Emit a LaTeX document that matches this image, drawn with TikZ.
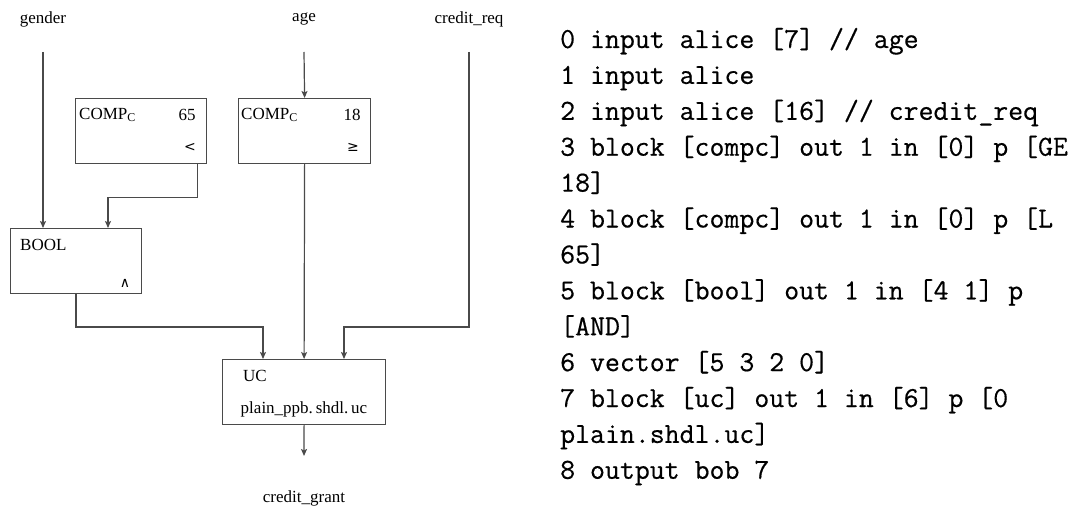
\documentclass[tikz,border=0pt]{standalone}
\usepackage{fontspec}
\setmainfont{Liberation Serif}
\newfontfamily\codefont{Latin Modern Mono}[FakeBold=0.5]
\newfontfamily\symfont{DejaVu Sans}
\usetikzlibrary{arrows.meta}
\definecolor{wire}{HTML}{4A4A4A}
\tikzset{
  blockbox/.style={draw=wire, line width=1.2pt, fill=white, minimum width=#1, minimum height=65pt,
                   inner sep=0pt, anchor=north west},
  wirearrow/.style={draw=wire, line width=1.2pt, -{Stealth[length=7pt,width=6pt,inset=1.5pt]}},
  lbl/.style={font=\fontsize{17}{20}\selectfont, inner sep=0pt},
  sym/.style={font=\symfont\fontsize{14}{16}\selectfont, inner sep=0pt},
  code/.style={font=\codefont\fontsize{29}{36}\selectfont, inner sep=0pt, anchor=base west}
}
\begin{document}
\begin{tikzpicture}[x=1pt, y=-1pt]
  \useasboundingbox (0,0) rectangle (1084,516);

  % input and output labels
  \node[lbl] (gender) at (43,19) {gender};
  \node[lbl] (age) at (304,19) {age};
  \node[lbl] (creditreq) at (469,19) {credit\_req};
  \node[lbl] (grant) at (304,498) {credit\_grant};

  \coordinate (gin) at (43,52);
  \coordinate (ain) at (304,52);
  \coordinate (cin) at (469,52);
  \coordinate (uout) at (304,456);

  % blocks
  \node[blockbox=131pt] (comp65) at (75,98) {};
  \node[lbl, anchor=west] (comp65name) at (79,115) {COMP$_{\mathrm{C}}$};
  \node[lbl] (comp65par) at (187,115) {65};
  \node[sym] (comp65op) at (190,147) {<};

  \node[blockbox=132pt] (comp18) at (238,98) {};
  \node[lbl, anchor=west] (comp18name) at (241,115) {COMP$_{\mathrm{C}}$};
  \node[lbl] (comp18par) at (352,115) {18};
  \node[sym] (comp18op) at (353,147) {≥};

  \node[blockbox=131pt] (bool) at (10,228) {};
  \node[lbl, anchor=west] (boolname) at (20,245) {BOOL};
  \node[sym] (boolop) at (125,283) {∧};

  \node[blockbox=163pt] (uc) at (222,359) {};
  \node[lbl, anchor=west] (ucname) at (243,376) {UC};
  \node[lbl] (ucpar) at (304,409) {plain\_ppb.\,shdl.\,uc};

  % connectors
  \draw[wirearrow] (gin) -- (gin |- bool.north);
  \draw[wirearrow] (ain) -- (comp18.north);
  \draw[wirearrow] ([xshift=-10pt]comp65.south east) |- ++(0,33) -| ([xshift=98pt]bool.north west);
  \draw[wirearrow] ([xshift=66pt]bool.south west) |- (263,327) -- (263,359);
  \draw[wirearrow] (comp18.south) -- (uc.north);
  \draw[wirearrow] (cin) |- (344,327) -- (344,359);
  \draw[wirearrow] (uc.south) -- (uout);

  % program listing
  \foreach \i/\t in {0/{0 input alice [7] // age},
                     1/{1 input alice},
                     2/{2 input alice [16] // credit\_req},
                     3/{3 block [compc] out 1 in [0] p [GE},
                     4/{18]},
                     5/{4 block [compc] out 1 in [0] p [L},
                     6/{65]},
                     7/{5 block [bool] out 1 in [4 1] p},
                     8/{[AND]},
                     9/{6 vector [5 3 2 0]},
                     10/{7 block [uc] out 1 in [6] p [0},
                     11/{plain.shdl.uc]},
                     12/{8 output bob 7}}
    \node[code] (line\i) at (560,{48+35.9*\i}) {\t};
\end{tikzpicture}
\end{document}
